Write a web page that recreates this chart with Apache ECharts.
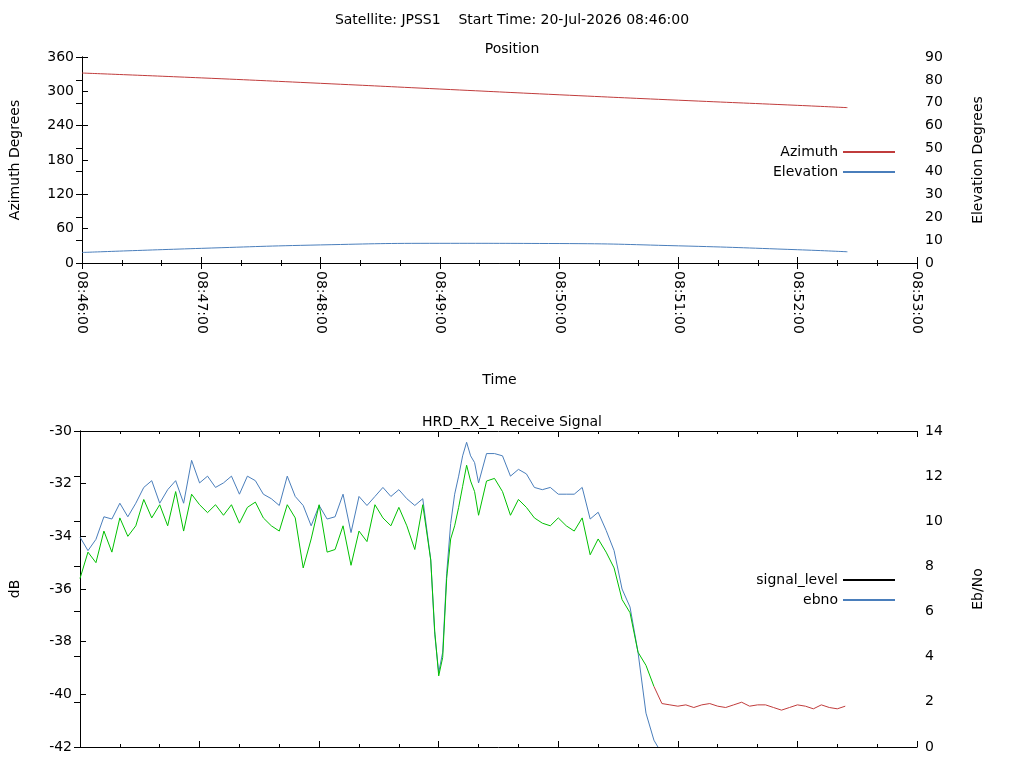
<!DOCTYPE html>
<html>
<head>
<meta charset="utf-8">
<script src="https://cdn.jsdelivr.net/npm/echarts@6/dist/echarts.min.js"></script>
<style>html,body{margin:0;padding:0;background:#fff}#c{width:1024px;height:768px}</style>
</head>
<body>
<div id="c"></div>
<script>
// seconds after 08:46:00
const posTimes = [0, 60, 120, 180, 240, 300, 360, 385];
const azimuth = [332, 323.5, 314, 304, 294, 284.5, 275.5, 271.5];
const elevation = [4.6, 6.4, 7.9, 8.6, 8.5, 7.5, 5.8, 4.9];

function range(a, b, s) { const r = []; for (let v = a; v <= b; v += s) r.push(v); return r; }

// signal level is drawn green while locked, red after lock is lost (t >= 288)
const lockLostAt = 288;
const sigTimes = range(0, 176, 4).concat(range(178, 198, 2), range(200, 384, 4));
const signalLevel = [
  -35.6,-34.6,-35.0,-33.8,-34.6,-33.3,-34.0,-33.6,-32.6,-33.3,
  -32.8,-33.6,-32.3,-33.8,-32.4,-32.8,-33.1,-32.8,-33.2,-32.8,
  -33.5,-32.9,-32.7,-33.3,-33.6,-33.8,-32.8,-33.3,-35.2,-34.1,
  -32.8,-34.6,-34.5,-33.6,-35.1,-33.8,-34.2,-32.8,-33.3,-33.6,
  -32.9,-33.6,-34.5,-32.8,-34.9,
  -37.6,-39.3,-38.6,-35.6,-34.1,-33.6,-32.9,-32.1,-31.3,-31.9,-32.3,
  -33.2,-31.9,-31.8,-32.3,-33.2,-32.6,-32.9,-33.3,-33.5,-33.6,-33.3,-33.6,
  -33.8,-33.3,-34.7,-34.1,-34.6,-35.2,-36.4,-36.9,-38.4,-38.9,-39.7,-40.35,
  -40.4,-40.45,-40.4,-40.5,-40.4,-40.35,-40.45,-40.5,-40.4,-40.3,-40.45,-40.4,
  -40.4,-40.5,-40.6,-40.5,-40.4,-40.45,-40.55,-40.4,-40.5,-40.55,-40.45,-40.6
];

const ebnoTimes = range(0, 176, 4).concat(range(178, 198, 2), range(200, 288, 4), [290]);
const ebno = [
  9.3,8.7,9.2,10.2,10.1,10.8,10.2,10.8,11.5,11.8,
  10.8,11.4,11.8,10.8,12.7,11.7,12.0,11.5,11.7,12.0,
  11.2,12.0,11.8,11.2,11.0,10.7,12.0,11.1,10.7,9.8,
  10.7,10.1,10.2,11.2,9.5,11.1,10.7,11.1,11.5,11.1,
  11.4,11.0,10.7,11.0,8.3,
  5.0,3.3,4.2,7.7,9.9,11.2,12.0,12.9,13.5,12.9,12.6,
  11.7,13.0,13.0,12.9,12.0,12.3,12.1,11.5,11.4,11.5,11.2,11.2,
  11.2,11.5,10.1,10.4,9.6,8.7,7.0,6.2,4.2,1.5,0.3,0
];

const pair = (ts, vs) => ts.map((t, i) => [t, vs[i]]);
const sigAll = pair(sigTimes, signalLevel);
const sigLocked = sigAll.filter(p => p[0] <= lockLostAt);
const sigLost = sigAll.filter(p => p[0] >= lockLostAt);

const font = 'DejaVu Sans';
const txt = { color: '#000', fontFamily: font, fontSize: 14 };

function fmt(t) {
  const s = 8 * 3600 + 46 * 60 + t;
  const p = n => String(n).padStart(2, '0');
  return p(Math.floor(s / 3600)) + ':' + p(Math.floor(s / 60) % 60) + ':' + p(s % 60);
}

function xAx(grid, pos, labels) {
  return {
    type: 'value', gridIndex: grid, position: pos, min: 0, max: 420, interval: 60,
    name: labels ? 'Time' : '', nameLocation: 'middle', nameGap: 110, nameTextStyle: txt,
    axisLine: { show: true, lineStyle: { color: '#000' } },
    axisTick: { show: true, inside: true, length: 6, lineStyle: { color: '#000' } },
    minorTick: { show: true, splitNumber: 3, length: 3, lineStyle: { color: '#000' } },
    axisLabel: labels ? Object.assign({ show: true, rotate: -90, formatter: fmt, margin: 8 }, txt) : { show: false },
    splitLine: { show: false }
  };
}
function yAx(grid, pos, min, max, step, name, gap) {
  return {
    type: 'value', gridIndex: grid, position: pos, min: min, max: max, interval: step,
    name: name, nameLocation: 'middle', nameGap: gap, nameTextStyle: txt,
    axisLine: { show: true, lineStyle: { color: '#000' } },
    axisTick: { show: true, inside: true, length: 6, lineStyle: { color: '#000' } },
    axisLabel: Object.assign({ margin: 8 }, txt),
    splitLine: { show: false }
  };
}

const RED = '#c03c3c', BLUE = '#4a7ebb', GREEN = '#00c000';
const legendBase = { orient: 'vertical', right: 124, align: 'right', itemWidth: 52, itemHeight: 2, itemGap: 6, icon: 'rect', textStyle: txt };

const chart = echarts.init(document.getElementById('c'));
chart.setOption({
  animation: false,
  title: [
    { text: 'Satellite: JPSS1    Start Time: 20-Jul-2026 08:46:00', left: 'center', top: 8, textStyle: Object.assign({}, txt, { fontWeight: 'normal' }) },
    { text: 'Position', left: 'center', top: 37, textStyle: Object.assign({}, txt, { fontWeight: 'normal' }) },
    { text: 'HRD_RX_1 Receive Signal', left: 'center', top: 410, textStyle: Object.assign({}, txt, { fontWeight: 'normal' }) }
  ],
  grid: [
    { left: 80, right: 107, top: 57, height: 206 },
    { left: 80, right: 107, top: 431, height: 316 }
  ],
  legend: [
    Object.assign({ top: 140, data: ['Azimuth', 'Elevation'] }, legendBase),
    Object.assign({ top: 568, data: [{ name: 'signal_level', itemStyle: { color: '#000' } }, 'ebno'] }, legendBase)
  ],
  xAxis: [xAx(0, 'bottom', true), xAx(0, 'top', false), xAx(1, 'bottom', false), xAx(1, 'top', false)],
  yAxis: [
    yAx(0, 'left', 0, 360, 60, 'Azimuth Degrees', 60),
    yAx(0, 'right', 0, 90, 10, 'Elevation Degrees', 54),
    yAx(1, 'left', -42, -30, 2, 'dB', 58),
    yAx(1, 'right', 0, 14, 2, 'Eb/No', 54)
  ],
  series: [
    { name: 'Azimuth', type: 'line', xAxisIndex: 0, yAxisIndex: 0, data: pair(posTimes, azimuth), smooth: true,
      showSymbol: false, color: RED, lineStyle: { width: 1 } },
    { name: 'Elevation', type: 'line', xAxisIndex: 0, yAxisIndex: 1, data: pair(posTimes, elevation), smooth: true,
      showSymbol: false, color: BLUE, lineStyle: { width: 1 } },
    { name: 'signal_level', type: 'line', xAxisIndex: 2, yAxisIndex: 2, data: sigLocked,
      showSymbol: false, color: '#000', lineStyle: { width: 1, color: GREEN }, z: 3 },
    { name: 'signal_lost', type: 'line', xAxisIndex: 2, yAxisIndex: 2, data: sigLost,
      showSymbol: false, color: RED, lineStyle: { width: 1 }, z: 3 },
    { name: 'ebno', type: 'line', xAxisIndex: 2, yAxisIndex: 3, data: pair(ebnoTimes, ebno),
      showSymbol: false, color: BLUE, lineStyle: { width: 1 }, z: 2 }
  ]
});
</script>
</body>
</html>
